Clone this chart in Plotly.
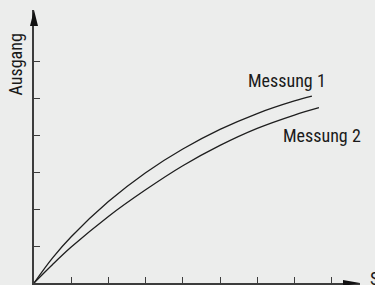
import plotly.graph_objects as go

# Data (in tick units)
x_m1 = [0, 0.5, 1, 2, 3, 4, 5, 6, 7, 7.47]
y_m1 = [0, 0.68, 1.25, 2.2, 2.98, 3.62, 4.15, 4.58, 4.92, 5.05]
x_m2 = [0, 0.5, 1, 2, 3, 4, 5, 6, 7, 7.66]
y_m2 = [0, 0.5, 0.97, 1.8, 2.52, 3.17, 3.72, 4.18, 4.54, 4.74]
series_names = ["Messung 1", "Messung 2"]
x_ticks = [1, 2, 3, 4, 5, 6, 7, 8]
y_ticks = [1, 2, 3, 4, 5, 6]
y_title = "Ausgang"
x_title = "Stimulus"

W, H = 375, 285
L, R, T, B = 34, 15, 10, 2
pw, ph = W - L - R, H - T - B
XMAX = pw / 37.2
YMAX = ph / 37.0

BG = "#ECEDEC"
AX = "#3c3c3c"
FONT = "Liberation Sans Narrow, Roboto Condensed, DejaVu Sans Condensed, Arial Narrow, sans-serif"

fig = go.Figure()
for xs, ys in [(x_m1, y_m1), (x_m2, y_m2)]:
    fig.add_trace(go.Scatter(x=xs, y=ys, mode="lines",
                             line=dict(color="#1e1e1e", width=1.3, shape="spline", smoothing=1.0),
                             showlegend=False, hoverinfo="skip"))

fig.update_layout(
    width=W, height=H,
    margin=dict(l=L, r=R, t=T, b=B),
    paper_bgcolor=BG, plot_bgcolor=BG,
    showlegend=False,
    xaxis=dict(range=[0, XMAX], showgrid=False, zeroline=False, showline=True,
               linecolor=AX, linewidth=2, ticks="inside", ticklen=6, tickwidth=1.3,
               tickcolor=AX, tickvals=x_ticks, showticklabels=False, fixedrange=True),
    yaxis=dict(range=[0, YMAX], showgrid=False, zeroline=False, showline=True,
               linecolor=AX, linewidth=2, ticks="inside", ticklen=6, tickwidth=1.3,
               tickcolor=AX, tickvals=y_ticks, showticklabels=False, fixedrange=True),
)

# arrow heads
ax_len, ax_half = 17 / pw, 3 / ph
ay_len, ay_half = 16 / ph, 4 / pw
fig.add_shape(type="path", xref="paper", yref="paper",
              path=f"M 1,0 L {1-ax_len},{ax_half} L {1-ax_len},{-ax_half} Z",
              fillcolor="#111", line=dict(width=0))
fig.add_shape(type="path", xref="paper", yref="paper",
              path=f"M 0,1 L {-ay_half},{1-ay_len} L {ay_half},{1-ay_len} Z",
              fillcolor="#111", line=dict(width=0))

# labels
fig.add_annotation(x=6.81, y=5.46, xref="x", yref="y", text=series_names[0], showarrow=False,
                   font=dict(family=FONT, size=18, color="#1a1a1a"))
fig.add_annotation(x=7.74, y=4.0, xref="x", yref="y", text=series_names[1], showarrow=False,
                   font=dict(family=FONT, size=18, color="#1a1a1a"))
fig.add_annotation(x=(15.5 - L) / pw, y=(283 - 65) / ph, xref="paper", yref="paper",
                   text=y_title, showarrow=False, textangle=-90,
                   xanchor="center", yanchor="middle",
                   font=dict(family=FONT, size=18, color="#1a1a1a"))
fig.add_annotation(x=(368 - L) / pw, y=(283 - 278.5) / ph, xref="paper", yref="paper",
                   text=x_title, showarrow=False, xanchor="left", yanchor="middle",
                   font=dict(family=FONT, size=18, color="#1a1a1a"))

fig.write_html("out.html", config={"displayModeBar": False},
               post_script="document.body.style.margin='0px';document.body.style.overflow='hidden';")
